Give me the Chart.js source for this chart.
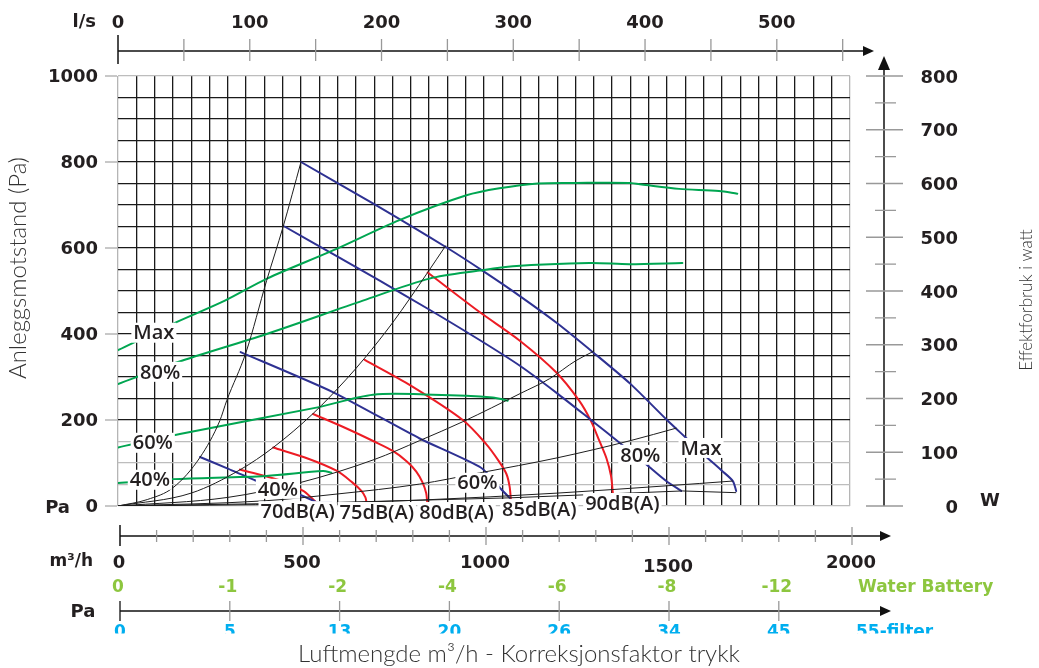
<!DOCTYPE html>
<html><head><meta charset="utf-8">
<script src="https://cdn.jsdelivr.net/npm/chart.js@4.4.1/dist/chart.umd.min.js"></script>
<style>html,body{margin:0;padding:0;background:#fff;}canvas{display:block;}</style>
</head><body>
<canvas id="c" width="1039" height="668"></canvas>
<script>
// ---------- tick labels ----------
const FLOW_TICKS = [0, 500, 1000, 1500, 2000];
const LS_TICKS = [0, 100, 200, 300, 400, 500];
const PA_TICKS = [0, 200, 400, 600, 800, 1000];
const W_TICKS = [0, 100, 200, 300, 400, 500, 600, 700, 800];
const CORR_FLOWS = [0, 300, 600, 900, 1200, 1500, 1800];
const BATTERY_LABELS = ['0', '-1', '-2', '-4', '-6', '-8', '-12'];
const FILTER_LABELS = ['0', '5', '13', '20', '26', '34', '45'];

// ---------- system curves (Pa vs m3/h) ----------
const sys1Q = [0, 80, 151, 224, 278, 297, 350, 406, 451, 500];
const sys1Pa = [0, 15, 43, 113, 198, 245, 358, 524, 649, 800];
const sys2Q = [0, 200, 333, 424, 533, 624, 674, 750, 846, 895];
const sys2Pa = [0, 30, 84, 136, 215, 295, 344, 426, 543, 605];
const sys3Q = [0, 300, 500, 700, 824, 942, 1100, 1179, 1251, 1300];
const sys3Pa = [0, 20, 55, 108, 152, 196, 262, 296, 338, 360];
const sys4Q = [0, 400, 600, 824, 988, 1200, 1400, 1525];
const sys4Pa = [0, 12, 28, 51, 77, 112, 152, 181];
const sys5Q = [0, 500, 833, 1200, 1500, 1679];
const sys5Pa = [0, 5, 14, 30, 47, 58];
const baseQ = [0, 583, 1070, 1542, 1688];
const basePa = [0, 8, 19, 35, 31];

// ---------- fan curves (Pa vs m3/h) ----------
const fanMaxQ = [500, 700, 900, 1000, 1100, 1200, 1300, 1400, 1500, 1550, 1600, 1650, 1680, 1689];
const fanMaxPa = [800, 702, 600, 545, 487, 425, 356, 284, 200, 160, 120, 82, 58, 35];
const fan80Q = [455, 600, 715, 850, 988, 1100, 1200, 1288, 1378, 1443, 1498, 1539];
const fan80Pa = [650, 580, 524, 457, 386, 325, 262, 203, 142, 97, 58, 35];
const fan60Q = [335, 587, 824, 992, 1047, 1070];
const fan60Pa = [358, 265, 157, 89, 39, 19];
const fan40Q = [224, 300, 374, 430, 500, 530, 545, 583];
const fan40Pa = [114, 87, 60, 45, 25, 14, 8, 8];

// ---------- sound curves (Pa vs m3/h) ----------
const db70Q = [333, 451, 506, 530, 542];
const db70Pa = [85, 57, 35, 18, 8];
const db75Q = [424, 520, 597, 640, 665, 676, 679];
const db75Pa = [136, 110, 82, 55, 35, 20, 8];
const db80Q = [533, 620, 700, 751, 790, 815, 832, 842, 845];
const db80Pa = [214, 182, 150, 128, 103, 80, 55, 30, 8];
const db85Q = [674, 800, 942, 1006, 1040, 1061, 1070, 1074];
const db85Pa = [340, 280, 200, 144, 105, 75, 45, 8];
const db90Q = [846, 988, 1097, 1197, 1260, 1292, 1315, 1335, 1347, 1352, 1354];
const db90Pa = [543, 451, 385, 311, 245, 198, 152, 110, 70, 30, 8];

// ---------- power curves (W vs m3/h) ----------
const pMaxQ = [0, 150, 292, 407, 589, 769, 952, 1042, 1147, 1250, 1397, 1442, 1533, 1642, 1692];
const pMaxW = [290, 339, 382, 423, 476, 532, 578, 591, 600, 601, 601, 597, 590, 586, 581];
const p80Q = [0, 160, 406, 669, 851, 988, 1079, 1288, 1397, 1542];
const p80W = [227, 267, 320, 382, 423, 438, 446, 452, 450, 452];
const p60Q = [0, 169, 542, 697, 861, 1024, 1065];
const p60W = [109, 134, 183, 207, 207, 202, 196];
const p40Q = [0, 150, 405, 560, 583];
const p40W = [43, 50, 56, 65, 62];

// ---------- curve labels ----------
const curveLabels = [
  {t: 'Max', q: 98, p: 403}, {t: '80%', q: 115, p: 312}, {t: '60%', q: 95, p: 147}, {t: '40%', q: 87, p: 61},
  {t: '40%', q: 437, p: 40}, {t: '60%', q: 982, p: 54}, {t: '80%', q: 1427, p: 119}, {t: 'Max', q: 1593, p: 135},
  {t: '70dB(A)', q: 491, p: -12}, {t: '75dB(A)', q: 707, p: -14}, {t: '80dB(A)', q: 925, p: -14},
  {t: '85dB(A)', q: 1151, p: -7}, {t: '90dB(A)', q: 1378, p: 7}
];

const BLUE = '#2e3192', RED = '#ed1c24', GREEN = '#00a651', BLACK = '#1e1e1e';
const TXT = '#231f20';
const LBL = (s) => `600 ${s}px "Open Sans"`;
const NUM = (s) => `bold ${s}px "DejaVu Sans"`;
const LIGHT = (s) => `300 ${s}px Lato`;

function ds(qs, vs, color, width, axis, smooth) {
  return {
    data: qs.map((q, i) => ({x: q, y: vs[i]})),
    borderColor: color, borderWidth: width, pointRadius: 0, showLine: true, fill: false,
    cubicInterpolationMode: smooth === 'mono' ? 'monotone' : 'default',
    tension: smooth === 'mono' ? 0 : (smooth || 0),
    yAxisID: axis || 'y'
  };
}

const datasets = [
  ds(sys1Q, sys1Pa, BLACK, 1, 'y', 'mono'), ds(sys2Q, sys2Pa, BLACK, 1, 'y', 'mono'), ds(sys3Q, sys3Pa, BLACK, 1, 'y', 'mono'),
  ds(sys4Q, sys4Pa, BLACK, 1, 'y', 'mono'), ds(sys5Q, sys5Pa, BLACK, 1, 'y', 'mono'), ds(baseQ, basePa, BLACK, 1, 'y', 0),
  ds(pMaxQ, pMaxW, GREEN, 2, 'yW', 0.3), ds(p80Q, p80W, GREEN, 2, 'yW', 0.3), ds(p60Q, p60W, GREEN, 2, 'yW', 0.3), ds(p40Q, p40W, GREEN, 2, 'yW', 0.3),
  ds(fanMaxQ, fanMaxPa, BLUE, 2, 'y', 0.25), ds(fan80Q, fan80Pa, BLUE, 2, 'y', 0.25), ds(fan60Q, fan60Pa, BLUE, 2, 'y', 0.2), ds(fan40Q, fan40Pa, BLUE, 2, 'y', 0.1),
  ds(db70Q, db70Pa, RED, 2, 'y', 0.3), ds(db75Q, db75Pa, RED, 2, 'y', 0.3), ds(db80Q, db80Pa, RED, 2, 'y', 0.3), ds(db85Q, db85Pa, RED, 2, 'y', 0.3), ds(db90Q, db90Pa, RED, 2, 'y', 0.3)
];

function line(ctx, x1, y1, x2, y2, c, w) {
  ctx.strokeStyle = c; ctx.lineWidth = w; ctx.beginPath(); ctx.moveTo(x1, y1); ctx.lineTo(x2, y2); ctx.stroke();
}
function tri(ctx, pts) {
  ctx.fillStyle = '#111'; ctx.beginPath(); ctx.moveTo(pts[0], pts[1]); ctx.lineTo(pts[2], pts[3]); ctx.lineTo(pts[4], pts[5]); ctx.closePath(); ctx.fill();
}
function txt(ctx, s, x, y, font, color, align, base) {
  ctx.font = font; ctx.fillStyle = color; ctx.textAlign = align || 'center'; ctx.textBaseline = base || 'middle'; ctx.fillText(s, x, y);
}

const extras = {
  id: 'extras',
  afterDatasetsDraw(chart) {
    const ctx = chart.ctx, xs = chart.scales.x, ys = chart.scales.y;
    ctx.save();
    ctx.font = LBL(20);
    for (const L of curveLabels) {
      const px = xs.getPixelForValue(L.q), py = ys.getPixelForValue(L.p);
      ctx.font = LBL(20);
      const w = ctx.measureText(L.t).width + 4, h = 20;
      ctx.fillStyle = '#fff'; ctx.fillRect(px - w / 2, py - h / 2, w, h);
      txt(ctx, L.t, px, py + 1, LBL(20), TXT);
    }
    ctx.restore();
  },
  afterDraw(chart) {
    const ctx = chart.ctx, xs = chart.scales.x, ys = chart.scales.y, yw = chart.scales.yW, xl = chart.scales.xls;
    const ca = chart.chartArea;
    ctx.save();
    // ---- top l/s axis ----
    const yTop = 51;
    line(ctx, xl.getPixelForValue(0), yTop, 866, yTop, '#111', 1.5);
    tri(ctx, [874, yTop, 863, yTop - 5, 863, yTop + 5]);
    for (let v = 0; v <= 550; v += 50) {
      const px = xl.getPixelForValue(v);
      if (v === 0) line(ctx, px, 35, px, 64, '#111', 1.5);
      else line(ctx, px, 39, px, 61, '#999', 1.3);
    }
    LS_TICKS.forEach(v => txt(ctx, String(v), xl.getPixelForValue(v), 23, NUM(18), TXT));
    txt(ctx, 'l/s', 96, 22, NUM(18), TXT, 'right');

    // ---- left Pa axis ----
    PA_TICKS.forEach(v => {
      const py = ys.getPixelForValue(v);
      line(ctx, 105, py, ca.left - 1, py, '#aaa', 1.3);
      txt(ctx, String(v), 98, py + 1, NUM(18), TXT, 'right');
    });
    txt(ctx, 'Pa', 70, ys.getPixelForValue(0) + 2, NUM(18), TXT, 'right');
    ctx.save();
    ctx.translate(18, 268); ctx.rotate(-Math.PI / 2);
    txt(ctx, 'Anleggsmotstand (Pa)', 0, 0, LIGHT(24), '#333');
    ctx.restore();

    // ---- right W axis ----
    const xW = 884;
    line(ctx, xW, yw.getPixelForValue(0), xW, 66, '#111', 1.5);
    tri(ctx, [xW, 56, xW - 6, 70, xW + 6, 70]);
    for (let v = 0; v <= 800; v += 50) {
      const py = yw.getPixelForValue(v);
      if (v % 100 === 0) line(ctx, 866, py, 903, py, '#999', 1.3);
      else line(ctx, 875, py, 896, py, '#999', 1.3);
    }
    W_TICKS.forEach(v => txt(ctx, String(v), 958, yw.getPixelForValue(v) + 2, NUM(18), TXT, 'right'));
    txt(ctx, 'W', 990, yw.getPixelForValue(0) - 5, NUM(18), TXT);
    ctx.save();
    ctx.translate(1027, 300); ctx.rotate(-Math.PI / 2);
    txt(ctx, 'Effektforbruk i watt', 0, 0, LIGHT(17), '#333');
    ctx.restore();

    // ---- bottom m3/h axis ----
    const yB = 536;
    line(ctx, xs.getPixelForValue(0) + 2, yB, 882, yB, '#111', 1.5);
    tri(ctx, [891, yB, 880, yB - 5, 880, yB + 5]);
    for (let v = 0; v <= 2000; v += 100) {
      const px = xs.getPixelForValue(v) + 2;
      if (v === 0) line(ctx, px, 525, px, 546, '#111', 1.5);
      else if (v % 500 === 0) line(ctx, px, 527, px, 545, '#999', 1.3);
      else line(ctx, px, 530, px, 542, '#999', 1.3);
    }
    FLOW_TICKS.forEach(v => txt(ctx, String(v), xs.getPixelForValue(v) + 1, v === 1500 ? 567 : 563, NUM(18), TXT));
    txt(ctx, 'm³/h', 93, 562, NUM(17), TXT, 'right');

    // ---- water battery correction ----
    CORR_FLOWS.forEach((q, i) => txt(ctx, BATTERY_LABELS[i], xs.getPixelForValue(q), 588, NUM(17), '#8dc63f'));
    txt(ctx, 'Water Battery', 858, 588, NUM(17), '#8dc63f', 'left');

    // ---- Pa filter axis ----
    const yP = 611;
    line(ctx, xs.getPixelForValue(0) + 2, yP, 882, yP, '#111', 1.5);
    tri(ctx, [891, yP, 880, yP - 5, 880, yP + 5]);
    CORR_FLOWS.forEach((q, i) => {
      const px = xs.getPixelForValue(q) + 2;
      line(ctx, px, 601, px, 621, i === 0 ? '#111' : '#999', 1.3);
    });
    txt(ctx, 'Pa', 83, 612, NUM(18), TXT);
    ctx.save();
    ctx.beginPath(); ctx.rect(0, 600, 1039, 33.5); ctx.clip();
    CORR_FLOWS.forEach((q, i) => txt(ctx, FILTER_LABELS[i], xs.getPixelForValue(q) + 2, 633, NUM(17), '#00aeef'));
    txt(ctx, '55-filter', 856, 633, NUM(17), '#00aeef', 'left');
    ctx.restore();

    // ---- bottom title ----
    txt(ctx, 'Luftmengde m³/h - Korreksjonsfaktor trykk', 519, 654, LIGHT(24), '#333');
    ctx.restore();
  }
};

new Chart(document.getElementById('c'), {
  type: 'scatter',
  data: {datasets},
  plugins: [extras],
  options: {
    responsive: false, animation: false, devicePixelRatio: 1,
    layout: {padding: {left: 118, right: 189, top: 76, bottom: 162}},
    plugins: {legend: {display: false}, tooltip: {enabled: false}},
    elements: {line: {borderCapStyle: 'round', borderJoinStyle: 'round'}},
    scales: {
      x: {
        type: 'linear', min: 0, max: FLOW_TICKS[FLOW_TICKS.length - 1], position: 'bottom',
        ticks: {display: false, stepSize: 50}, border: {display: false},
        grid: {drawTicks: false, lineWidth: 1.3,
          color: c => (c.tick && (c.tick.value === 0 || c.tick.value === 2000)) ? '#b5b5b5' : '#1a1a1a'},
        afterFit: s => { s.height = 0; }
      },
      y: {
        type: 'linear', min: 0, max: PA_TICKS[PA_TICKS.length - 1], position: 'left',
        ticks: {display: false, stepSize: 50}, border: {display: false},
        grid: {drawTicks: false, lineWidth: 1.3,
          color: c => (c.tick && (c.tick.value < 200 || c.tick.value === 1000)) ? '#bdbdbd' : '#1a1a1a'},
        afterFit: s => { s.width = 0; }
      },
      yW: {type: 'linear', min: 0, max: W_TICKS[W_TICKS.length - 1], position: 'right', display: false},
      xls: {type: 'linear', axis: 'x', min: 0, max: FLOW_TICKS[FLOW_TICKS.length - 1] / 3.6, position: 'top', display: false}
    }
  }
});
</script>
</body></html>
